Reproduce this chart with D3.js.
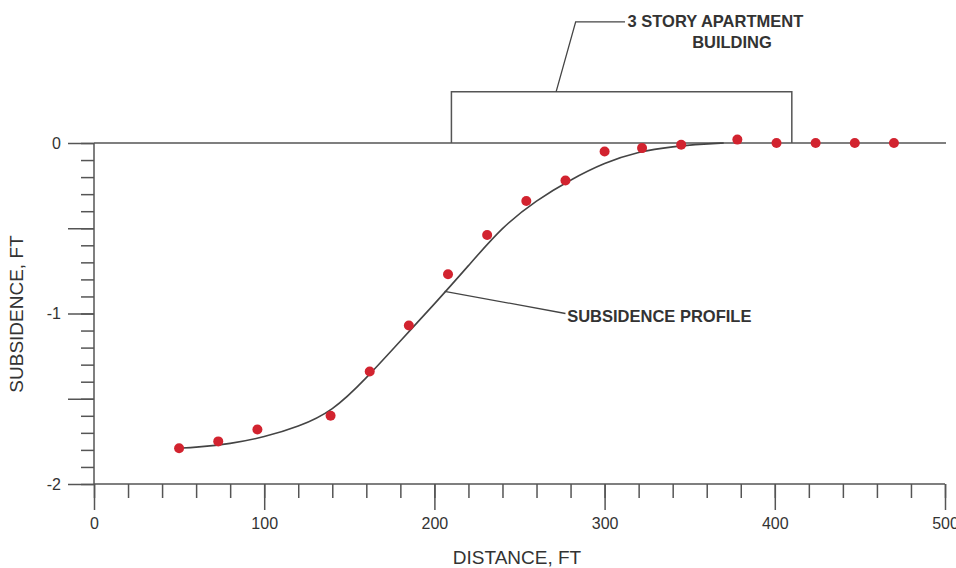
<!DOCTYPE html>
<html>
<head>
<meta charset="utf-8">
<script src="https://cdn.jsdelivr.net/npm/d3@7"></script>
<style>
  body { margin: 0; background: #fff; }
  text { font-family: "Liberation Sans", Arial, sans-serif; fill: #333; }
</style>
</head>
<body>
<svg id="chart" width="956" height="568"></svg>
<script>
// measured settlement points (distance ft, subsidence ft)
const obsDist = [50, 73, 96, 139, 162, 185, 208, 231, 254, 277, 300, 322, 345, 378, 401, 424, 447, 470];
const obsSub = [-1.79, -1.75, -1.68, -1.60, -1.34, -1.07, -0.77, -0.54, -0.34, -0.22, -0.05, -0.03, -0.01, 0.02, 0, 0, 0, 0];

// fitted subsidence profile
const profDist = [50, 60, 80, 100, 120, 140, 160, 180, 200, 220, 240, 260, 280, 300, 320, 340, 360, 370];
const profSub = [-1.79, -1.785, -1.765, -1.725, -1.665, -1.575, -1.38, -1.16, -0.945, -0.72, -0.49, -0.335, -0.215, -0.115, -0.05, -0.02, -0.005, 0];

// building outline (start, end, height)
const building = [210, 410, 0.3];

const xMajor = [0, 100, 200, 300, 400, 500];
const yMajor = [0, -0.5, -1, -1.5, -2];
const yLabels = [0, -1, -2];

const svg = d3.select("#chart");
const ink = "#555";

const x = d3.scaleLinear().domain([0, 500]).range([94, 945]);
const y = d3.scaleLinear().domain([-2, 0]).range([484, 143]);

// y axis: minor ticks every 0.1, major every 0.5
const yMinor = d3.range(-20, 1).map(d => d / 10);
svg.append("g")
  .attr("transform", `translate(${x(0)},0)`)
  .call(d3.axisLeft(y).tickValues(yMinor).tickSize(13).tickSizeOuter(0).tickFormat(""))
  .call(g => g.select(".domain").remove());
svg.append("g")
  .attr("transform", `translate(${x(0)},0)`)
  .call(d3.axisLeft(y).tickValues(yMajor).tickSize(26).tickSizeOuter(0)
    .tickFormat(d => yLabels.includes(d) ? d3.format("d")(d).replace("−", "-") : ""))
  .call(g => g.select(".domain").remove())
  .call(g => g.selectAll("text").attr("x", -33).style("font-size", "16px")
    .style("font-family", "'Liberation Sans', Arial, sans-serif").attr("fill", "#333"));

// x axis: minor every 20, major every 100
const xMinor = d3.range(0, 501, 20);
svg.append("g")
  .attr("transform", `translate(0,${y(-2)})`)
  .call(d3.axisBottom(x).tickValues(xMinor).tickSize(14).tickSizeOuter(0).tickFormat(""))
  .call(g => g.select(".domain").remove());
svg.append("g")
  .attr("transform", `translate(0,${y(-2)})`)
  .call(d3.axisBottom(x).tickValues(xMajor).tickSize(26).tickSizeOuter(0).tickFormat(d3.format("d")))
  .call(g => g.select(".domain").remove())
  .call(g => g.selectAll("text").attr("y", 34).style("font-size", "16px")
    .style("font-family", "'Liberation Sans', Arial, sans-serif").attr("fill", "#333"));

svg.selectAll(".tick line").attr("stroke", ink).attr("stroke-width", 1.5);

// axis lines and ground line
svg.append("line").attr("x1", x(0)).attr("x2", x(0)).attr("y1", y(0)).attr("y2", y(-2))
  .attr("stroke", ink).attr("stroke-width", 1.5);
svg.append("line").attr("x1", x(0)).attr("x2", x(500)).attr("y1", y(-2)).attr("y2", y(-2))
  .attr("stroke", ink).attr("stroke-width", 1.5);
svg.append("line").attr("x1", x(0)).attr("x2", x(500) + 1).attr("y1", y(0)).attr("y2", y(0))
  .attr("stroke", ink).attr("stroke-width", 1.5);

// building
svg.append("path")
  .attr("d", d3.line()([
    [x(building[0]), y(0)], [x(building[0]), y(building[2])],
    [x(building[1]), y(building[2])], [x(building[1]), y(0)]
  ]))
  .attr("fill", "none").attr("stroke", ink).attr("stroke-width", 1.5);

// profile curve
const line = d3.line()
  .x((d, i) => x(profDist[i]))
  .y(d => y(d))
  .curve(d3.curveBasis);
svg.append("path")
  .datum(profSub)
  .attr("d", line)
  .attr("fill", "none").attr("stroke", "#444").attr("stroke-width", 1.6);

// leaders
svg.append("path")
  .attr("d", d3.line()([[x(271.5), y(0.3)], [x(283), y(0.71)], [x(312), y(0.71)]]))
  .attr("fill", "none").attr("stroke", "#444").attr("stroke-width", 1.3);
svg.append("path")
  .attr("d", d3.line()([[x(206), y(-0.87)], [x(277), y(-1.0)]]))
  .attr("fill", "none").attr("stroke", "#444").attr("stroke-width", 1.3);

// points
svg.selectAll(".pt")
  .data(obsSub)
  .enter().append("circle")
  .attr("class", "pt")
  .attr("cx", (d, i) => x(obsDist[i]))
  .attr("cy", d => y(d))
  .attr("r", 5)
  .attr("fill", "#d2232f");

// annotations
svg.append("text").attr("x", x(313.5)).attr("y", 27)
  .style("font-size", "16.5px").style("font-weight", "bold")
  .text("3 STORY APARTMENT");
svg.append("text").attr("x", 732).attr("y", 48).attr("text-anchor", "middle")
  .style("font-size", "16.5px").style("font-weight", "bold")
  .text("BUILDING");
svg.append("text").attr("x", x(278)).attr("y", y(-1.0) + 8)
  .style("font-size", "16.5px").style("font-weight", "bold")
  .text("SUBSIDENCE PROFILE");

// axis titles
svg.append("text").attr("x", 517).attr("y", 564).attr("text-anchor", "middle")
  .style("font-size", "19px").text("DISTANCE, FT");
svg.append("text").attr("transform", "translate(23,314) rotate(-90)").attr("text-anchor", "middle")
  .style("font-size", "19px").text("SUBSIDENCE, FT");
</script>
</body>
</html>
